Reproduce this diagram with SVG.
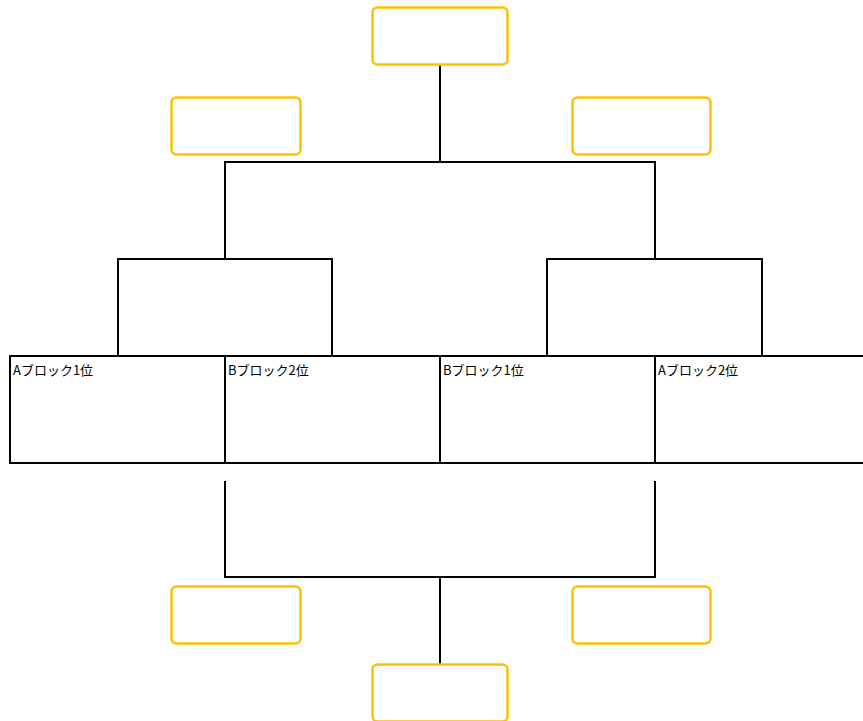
<svg xmlns="http://www.w3.org/2000/svg" width="863" height="721" viewBox="0 0 863 721">
<style>
.slot{fill:#fff;stroke:#FFC000;stroke-width:2.5}
.ln{fill:none;stroke:#000;stroke-width:2;stroke-linecap:square}
.cell{fill:#fff;stroke:#000;stroke-width:2}
.lbl{font-family:"Noto Sans CJK JP","Liberation Sans",sans-serif;font-size:13px;fill:#000}
</style>
<rect width="863" height="721" fill="#fff"/>
<g id="connectors">
<path class="ln" d="M440,65V162M225,162H655M225,162V259M655,162V259M118,259H332M118,259V355M332,259V355M547,259H762M547,259V355M762,259V355"/>
<path class="ln" d="M225,482V577H655V482M440,577V663"/>
</g>
<g id="final-top"><rect class="slot" x="372.5" y="7.5" width="135" height="57" rx="5"/></g>
<g id="semi-left"><rect class="slot" x="171.5" y="97.5" width="129" height="57" rx="5"/></g>
<g id="semi-right"><rect class="slot" x="572.5" y="97.5" width="138" height="57" rx="5"/></g>
<g id="a1"><rect class="cell" x="10" y="356" width="215" height="107"/><text class="lbl" x="13" y="375">Aブロック1位</text></g>
<g id="b2"><rect class="cell" x="225" y="356" width="215" height="107"/><text class="lbl" x="228" y="375">Bブロック2位</text></g>
<g id="b1"><rect class="cell" x="440" y="356" width="215" height="107"/><text class="lbl" x="443" y="375">Bブロック1位</text></g>
<g id="a2"><rect class="cell" x="655" y="356" width="215" height="107"/><text class="lbl" x="658" y="375">Aブロック2位</text></g>
<g id="third-left"><rect class="slot" x="171.5" y="586.5" width="129" height="57" rx="5"/></g>
<g id="third-right"><rect class="slot" x="572.5" y="586.5" width="138" height="57" rx="5"/></g>
<g id="final-bottom"><rect class="slot" x="372.5" y="664.5" width="135" height="57" rx="5"/></g>
</svg>
